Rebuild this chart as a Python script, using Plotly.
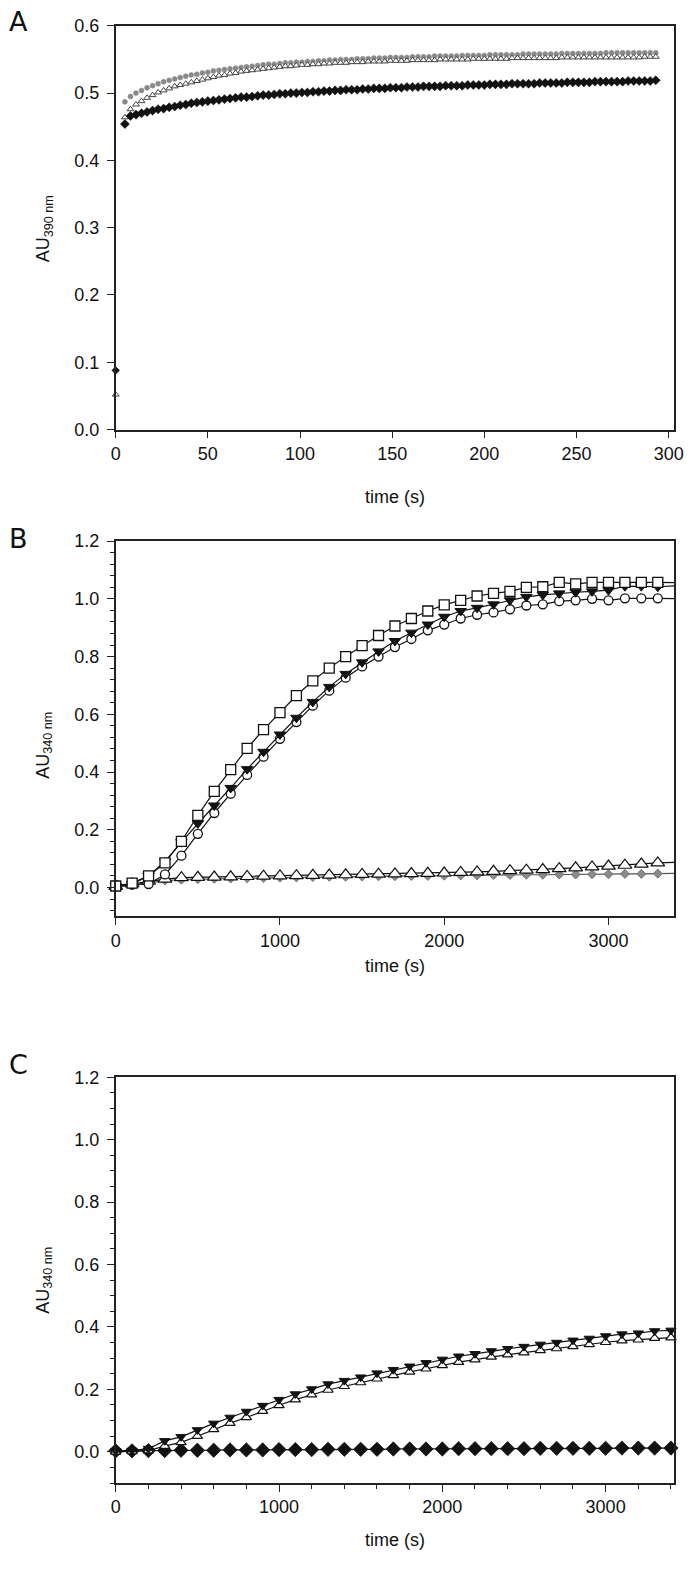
import plotly.graph_objects as go

# ---------------- Panel A data (time in s, AU390) ----------------
a_t0 = [0]
a_diamond_t0 = [0.088]
a_triangle_t0 = [0.052]
a_time = list(range(5, 294, 3))
a_diamond = [
    0.454, 0.466, 0.468, 0.470, 0.472, 0.474, 0.476, 0.477, 0.479, 0.480,
    0.482, 0.483, 0.485, 0.486, 0.487, 0.488, 0.489, 0.490, 0.491, 0.492,
    0.493, 0.494, 0.494, 0.495, 0.496, 0.497, 0.497, 0.498, 0.499, 0.499,
    0.500, 0.500, 0.501, 0.501, 0.502, 0.502, 0.503, 0.503, 0.504, 0.504,
    0.505, 0.505, 0.505, 0.506, 0.506, 0.507, 0.507, 0.507, 0.508, 0.508,
    0.508, 0.509, 0.509, 0.509, 0.510, 0.510, 0.510, 0.510, 0.511, 0.511,
    0.511, 0.511, 0.512, 0.512, 0.512, 0.512, 0.513, 0.513, 0.513, 0.513,
    0.514, 0.514, 0.514, 0.514, 0.514, 0.515, 0.515, 0.515, 0.515, 0.515,
    0.516, 0.516, 0.516, 0.516, 0.516, 0.517, 0.517, 0.517, 0.517, 0.517,
    0.517, 0.518, 0.518, 0.518, 0.518, 0.518, 0.519]
a_circle = [
    0.487, 0.495, 0.500, 0.504, 0.508, 0.511, 0.514, 0.517, 0.519, 0.521,
    0.523, 0.525, 0.527, 0.528, 0.530, 0.531, 0.533, 0.534, 0.535, 0.536,
    0.537, 0.538, 0.539, 0.540, 0.541, 0.542, 0.543, 0.543, 0.544, 0.545,
    0.545, 0.546, 0.546, 0.547, 0.547, 0.548, 0.548, 0.549, 0.549, 0.550,
    0.550, 0.550, 0.551, 0.551, 0.551, 0.552, 0.552, 0.552, 0.553, 0.553,
    0.553, 0.553, 0.554, 0.554, 0.554, 0.554, 0.555, 0.555, 0.555, 0.555,
    0.555, 0.556, 0.556, 0.556, 0.556, 0.556, 0.557, 0.557, 0.557, 0.557,
    0.557, 0.557, 0.558, 0.558, 0.558, 0.558, 0.558, 0.558, 0.558, 0.559,
    0.559, 0.559, 0.559, 0.559, 0.559, 0.559, 0.559, 0.560, 0.560, 0.560,
    0.560, 0.560, 0.560, 0.560, 0.560, 0.560, 0.560]
a_triangle = [
    0.464, 0.476, 0.483, 0.488, 0.493, 0.497, 0.501, 0.504, 0.507, 0.510,
    0.512, 0.514, 0.516, 0.518, 0.520, 0.522, 0.524, 0.526, 0.527, 0.529,
    0.530, 0.532, 0.533, 0.534, 0.535, 0.536, 0.537, 0.538, 0.539, 0.540,
    0.540, 0.541, 0.542, 0.542, 0.543, 0.543, 0.544, 0.544, 0.545, 0.545,
    0.545, 0.546, 0.546, 0.546, 0.547, 0.547, 0.547, 0.547, 0.548, 0.548,
    0.548, 0.548, 0.549, 0.549, 0.549, 0.549, 0.549, 0.550, 0.550, 0.550,
    0.550, 0.550, 0.550, 0.551, 0.551, 0.551, 0.551, 0.551, 0.551, 0.551,
    0.552, 0.552, 0.552, 0.552, 0.552, 0.552, 0.552, 0.552, 0.552, 0.553,
    0.553, 0.553, 0.553, 0.553, 0.553, 0.553, 0.553, 0.553, 0.553, 0.553,
    0.553, 0.553, 0.553, 0.553, 0.554, 0.554, 0.554]

# ---------------- Panel B data (time in s, AU340) ----------------
b_time = list(range(0, 3301, 100))
b_square = [0.005, 0.015, 0.040, 0.085, 0.160, 0.250, 0.333, 0.408, 0.482, 0.547,
            0.606, 0.665, 0.716, 0.760, 0.800, 0.838, 0.873, 0.906, 0.932, 0.958,
            0.979, 0.995, 1.010, 1.019, 1.026, 1.040, 1.042, 1.057, 1.052, 1.057,
            1.057, 1.057, 1.057, 1.057]
b_down = [0.005, 0.012, 0.040, 0.090, 0.157, 0.222, 0.284, 0.345, 0.410, 0.470,
          0.530, 0.588, 0.643, 0.695, 0.740, 0.780, 0.818, 0.854, 0.883, 0.911,
          0.938, 0.958, 0.969, 0.981, 0.995, 1.007, 1.014, 1.019, 1.023, 1.026,
          1.030, 1.044, 1.044, 1.042]
b_circle = [0.008, 0.010, 0.012, 0.045, 0.110, 0.186, 0.258, 0.325, 0.390, 0.453,
            0.515, 0.573, 0.630, 0.682, 0.727, 0.766, 0.800, 0.833, 0.861, 0.891,
            0.911, 0.932, 0.945, 0.953, 0.964, 0.977, 0.981, 0.992, 0.995, 1.000,
            0.995, 1.002, 1.002, 1.002]
b_up = [0.004, 0.012, 0.022, 0.029, 0.034, 0.035, 0.036, 0.037, 0.038, 0.039,
        0.040, 0.041, 0.042, 0.043, 0.044, 0.045, 0.046, 0.047, 0.048, 0.049,
        0.050, 0.052, 0.054, 0.056, 0.058, 0.060, 0.062, 0.065, 0.068, 0.071,
        0.074, 0.077, 0.081, 0.085]
b_grey = [0.000, 0.008, 0.018, 0.024, 0.027, 0.029, 0.030, 0.031, 0.032, 0.033,
          0.034, 0.035, 0.036, 0.037, 0.037, 0.038, 0.039, 0.039, 0.040, 0.040,
          0.041, 0.042, 0.042, 0.043, 0.043, 0.044, 0.044, 0.045, 0.045, 0.046,
          0.046, 0.047, 0.047, 0.048]
# fitted curves continue to the right edge of panel B (last point -> edge)
b_fit_time = [3300, 3400]
b_fit_square = [1.057, 1.056]
b_fit_down = [1.042, 1.045]
b_fit_circle = [1.002, 1.001]
b_fit_up = [0.085, 0.087]
b_fit_grey = [0.048, 0.049]

# ---------------- Panel C data (time in s, AU340) ----------------
c_time = list(range(0, 3401, 100))
c_down = [0.003, 0.004, 0.010, 0.035, 0.048, 0.070, 0.091, 0.110, 0.129, 0.148,
          0.167, 0.185, 0.201, 0.217, 0.228, 0.239, 0.252, 0.263, 0.274, 0.285,
          0.296, 0.306, 0.314, 0.323, 0.330, 0.337, 0.344, 0.350, 0.357, 0.363,
          0.371, 0.377, 0.380, 0.387, 0.389]
c_up = [0.000, 0.001, 0.004, 0.018, 0.030, 0.050, 0.072, 0.092, 0.110, 0.130,
        0.149, 0.167, 0.183, 0.198, 0.210, 0.222, 0.234, 0.245, 0.256, 0.266,
        0.277, 0.287, 0.295, 0.304, 0.311, 0.318, 0.325, 0.331, 0.338, 0.344,
        0.351, 0.356, 0.359, 0.364, 0.366]
c_diamond = [0.003, 0.003, 0.004, 0.004, 0.005, 0.005, 0.005, 0.006, 0.006, 0.006,
             0.007, 0.007, 0.007, 0.008, 0.008, 0.008, 0.008, 0.009, 0.009, 0.009,
             0.009, 0.010, 0.010, 0.010, 0.010, 0.010, 0.011, 0.011, 0.011, 0.011,
             0.011, 0.012, 0.012, 0.012, 0.012]

a_xticks = [0, 50, 100, 150, 200, 250, 300]
a_yticks = [0.0, 0.1, 0.2, 0.3, 0.4, 0.5, 0.6]
bc_xticks = [0, 1000, 2000, 3000]
bc_yticks = [0.0, 0.2, 0.4, 0.6, 0.8, 1.0, 1.2]

# ---------------- layout helpers ----------------
W, H = 693, 1571
FONT = "Liberation Sans, Arial, sans-serif"


def px_y(py):
    return 1 - py / H


def px_x(px):
    return px / W


X_DOM = [px_x(113), px_x(683)]
PANELS = {  # top, bottom in pixels
    "A": (16, 425),
    "B": (538, 918),
    "C": (1081, 1492),
}

fig = go.Figure()

BLACK = "#111111"
GREY = "#8a8a8a"


def add(x, y, axis, symbol, size, fill, line_col, mode="markers", lw=1.0,
        line_color=BLACK, dash="solid", mlw=1.2):
    xa, ya = axis
    fig.add_trace(go.Scatter(
        x=x, y=y, mode=mode, xaxis=xa, yaxis=ya, cliponaxis=False,
        marker=dict(symbol=symbol, size=size, color=fill,
                    line=dict(color=line_col, width=mlw)),
        line=dict(color=line_color, width=lw, dash=dash),
        showlegend=False, hoverinfo="skip"))


def add_line(x, y, axis, color=BLACK, lw=1.2):
    xa, ya = axis
    fig.add_trace(go.Scatter(x=x, y=y, mode="lines", xaxis=xa, yaxis=ya,
                             line=dict(color=color, width=lw),
                             showlegend=False, hoverinfo="skip"))


# Panel A
axA = ("x", "y")
add(a_time, a_circle, axA, "circle", 5, GREY, GREY, mlw=0.5)
add(a_time, a_triangle, axA, "triangle-up", 6, "white", "#444444", mlw=1.0)
add(a_t0, a_triangle_t0, axA, "triangle-up", 6, "white", "#444444", mlw=1.0)
add(a_time, a_diamond, axA, "diamond", 7, BLACK, BLACK, mlw=0.5)
add(a_t0, a_diamond_t0, axA, "diamond", 6, BLACK, BLACK, mlw=0.5)

# Panel B
axB = ("x2", "y2")
add_line(b_fit_time, b_fit_grey, axB, color="#555555")
add_line(b_fit_time, b_fit_up, axB)
add_line(b_fit_time, b_fit_circle, axB)
add_line(b_fit_time, b_fit_down, axB)
add_line(b_fit_time, b_fit_square, axB)
add(b_time, b_grey, axB, "diamond", 7, GREY, "#666666", mode="lines+markers",
    lw=1.2, line_color="#555555", mlw=0.8)
add(b_time, b_up, axB, "triangle-up", 12, "white", BLACK, mode="lines+markers",
    lw=1.2, mlw=1.2)
add(b_time, b_circle, axB, "circle", 9, "white", BLACK, mode="lines+markers",
    lw=1.2, mlw=1.3)
add(b_time, b_down, axB, "triangle-down", 10, BLACK, BLACK, mode="lines+markers",
    lw=1.2, mlw=1.0)
add(b_time, b_square, axB, "square", 10, "white", BLACK, mode="lines+markers",
    lw=1.2, mlw=1.3)

# Panel C
axC = ("x3", "y3")
add(c_time, c_diamond, axC, "diamond", 11, BLACK, BLACK, mode="lines+markers",
    lw=1.2, mlw=0.8)
add(c_time, c_up, axC, "triangle-up", 9, "white", BLACK, mode="lines+markers",
    lw=1.2, mlw=1.2)
add(c_time, c_down, axC, "triangle-down", 9, BLACK, BLACK, mode="lines+markers",
    lw=1.2, mlw=1.0)

tickfont = dict(family=FONT, size=18, color="#111111")
axis_common = dict(showgrid=False, zeroline=False, showline=True, mirror=True,
                   linecolor="#222222", linewidth=1.5, ticks="outside",
                   ticklen=7, tickwidth=1.3, tickcolor="#222222",
                   tickfont=tickfont, ticklabeloverflow="allow")


def ydom(p):
    t, b = PANELS[p]
    return [px_y(b), px_y(t)]


fig.update_layout(
    width=W, height=H, margin=dict(l=0, r=0, t=0, b=0),
    paper_bgcolor="white", plot_bgcolor="white",
    xaxis=dict(domain=X_DOM, anchor="y", range=[0, 303], tickvals=a_xticks,
               **axis_common),
    yaxis=dict(domain=ydom("A"), anchor="x", range=[0, 0.6], tickvals=a_yticks,
               tickformat=".1f", ticklabelstandoff=4, **axis_common),
    xaxis2=dict(domain=X_DOM, anchor="y2", range=[0, 3400], tickvals=bc_xticks,
                **axis_common),
    yaxis2=dict(domain=ydom("B"), anchor="x2", range=[-0.1, 1.2], tickvals=bc_yticks,
                tickformat=".1f", ticklabelstandoff=4,
                minor=dict(tickvals=[round(-0.08 + 0.04 * i, 2) for i in range(32)],
                           ticks="outside", ticklen=4, tickcolor="#222222"),
                **axis_common),
    xaxis3=dict(domain=X_DOM, anchor="y3", range=[0, 3420], tickvals=bc_xticks,
                minor=dict(dtick=200, tick0=0, ticks="outside", ticklen=4,
                           tickcolor="#222222"),
                **axis_common),
    yaxis3=dict(domain=ydom("C"), anchor="x3", range=[-0.1, 1.2], tickvals=bc_yticks,
                tickformat=".1f", ticklabelstandoff=4,
                minor=dict(dtick=0.05, tick0=0, ticks="outside", ticklen=4,
                           tickcolor="#222222"),
                **axis_common),
)

ann = []
titlefont = dict(family=FONT, size=18, color="#111111")
letterfont = dict(family="DejaVu Sans, sans-serif", size=27, color="#111111")
for p, ytitle, letter_y, ytitle_c, xtitle_y in [
        ("A", "AU<sub>390 nm</sub>", 12, 222, 493),
        ("B", "AU<sub>340 nm</sub>", 535, 745, 968),
        ("C", "AU<sub>340 nm</sub>", 1068, 1287, 1550)]:
    ann.append(dict(text=p, x=px_x(2), y=px_y(letter_y), xref="paper", yref="paper",
                    xanchor="left", yanchor="middle", showarrow=False, font=letterfont))
    ann.append(dict(text=ytitle, x=px_x(40), y=px_y(ytitle_c), xref="paper",
                    yref="paper", textangle=-90, xanchor="center", yanchor="middle",
                    showarrow=False, font=titlefont))
    ann.append(dict(text="time (s)", x=px_x(398), y=px_y(xtitle_y), xref="paper",
                    yref="paper", xanchor="center", yanchor="middle",
                    showarrow=False, font=titlefont))
fig.update_layout(annotations=ann)

fig.write_html("out.html", config={"displayModeBar": False},
               post_script="document.body.style.margin='0px';")
